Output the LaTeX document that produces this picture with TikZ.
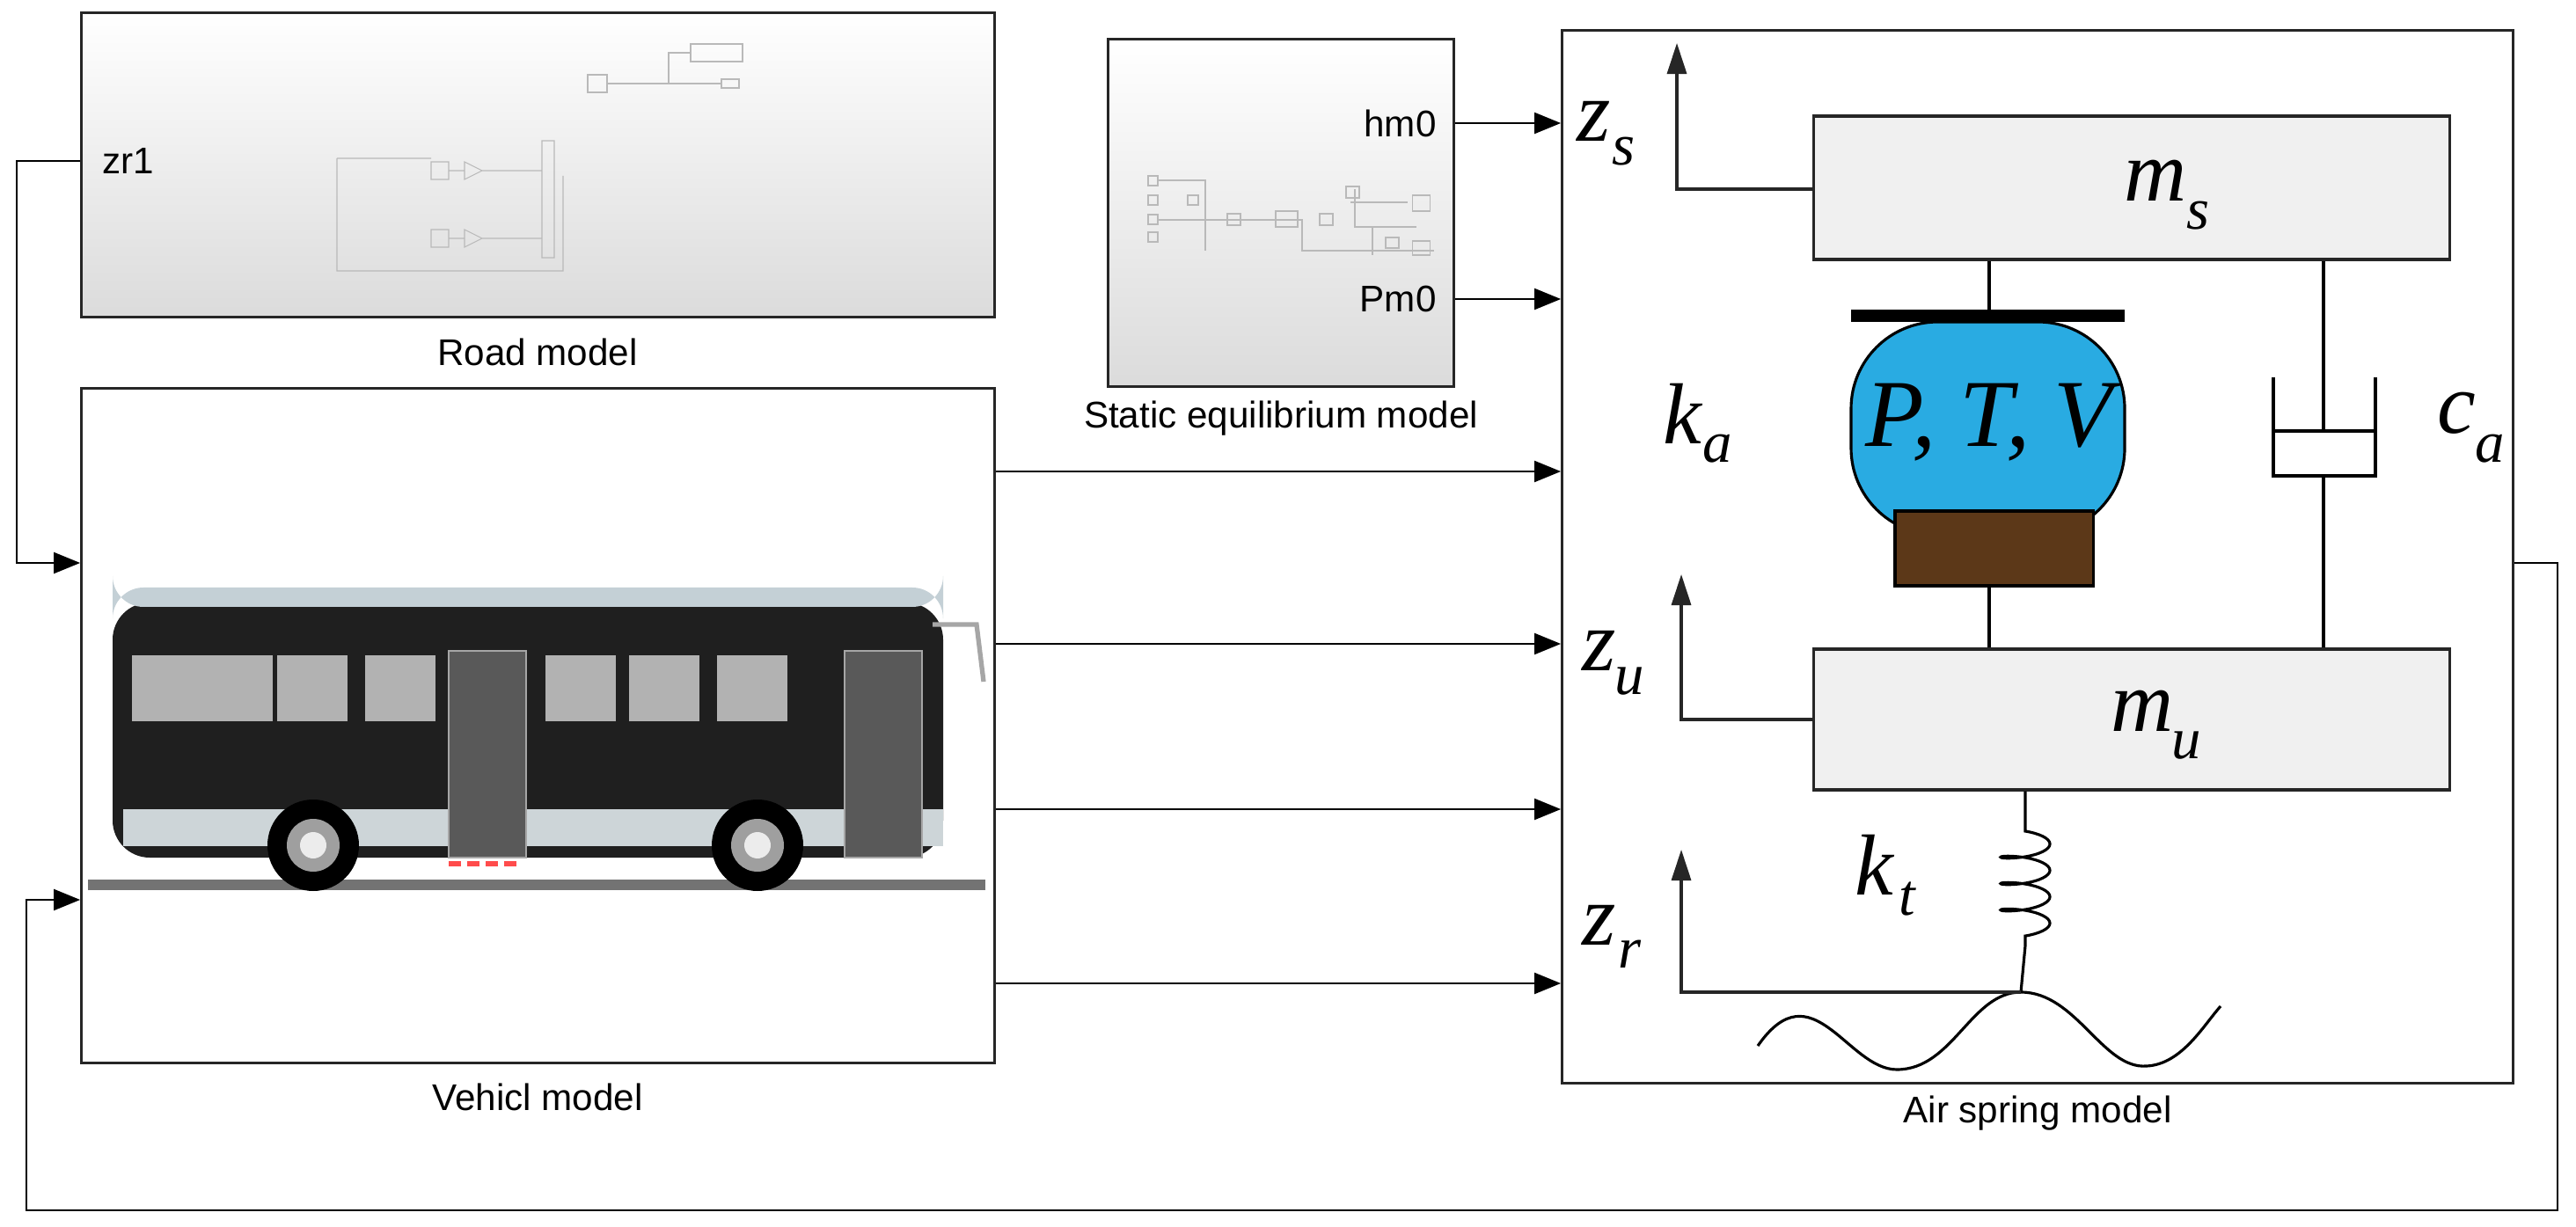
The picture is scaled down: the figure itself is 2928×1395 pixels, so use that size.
\documentclass[tikz,border=0pt]{standalone}
\usepackage{fontspec}
\setmainfont{Liberation Sans}
\newfontfamily\mathserif{Liberation Serif}
\usetikzlibrary{arrows.meta, decorations.pathmorphing}
\definecolor{airblue}{RGB}{41,171,226}
\definecolor{pistbrown}{RGB}{92,56,24}
\tikzset{
  block/.style={draw=black!85, line width=0.9pt, inner sep=0pt},
  simblock/.style={block, top color=white, bottom color=gray!28},
  sig/.style={-{Triangle[length=0.3cm, width=0.24cm]}, line width=0.6pt},
  caption/.style={font=\fontsize{12}{14}\selectfont},
  port/.style={font=\fontsize{12}{14}\selectfont},
  sym/.style={font=\mathserif\itshape\fontsize{28}{30}\selectfont},
  subs/.style={font=\mathserif\itshape\fontsize{19}{21}\selectfont},
  mass/.style={draw=black!85, line width=0.9pt, fill=gray!12},
  faint/.style={draw=gray!55, line width=0.3pt},
  up/.style={-{Triangle[length=0.35cm, width=0.22cm]}, line width=0.9pt, draw=black!85}
}
\begin{document}
\begin{tikzpicture}[x=0.01cm, y=-0.01cm]
	\useasboundingbox (0,0) rectangle (2928,1395);
	% blocks
	\node[simblock, minimum width=10.37cm, minimum height=3.45cm] (road) at (611.5,187.5) {};
	\node[block, fill=white, minimum width=10.37cm, minimum height=7.66cm] (veh) at (611.5,825) {};
	\node[simblock, minimum width=3.92cm, minimum height=3.94cm] (stat) at (1456,242) {};
	\node[block, fill=white, minimum width=10.8cm, minimum height=11.96cm] (air) at (2316,633) {};
	\node[caption] at (611,400) {Road model};
	\node[caption] at (611,1247) {Vehicl model};
	\node[caption] at (1456,476) {Static equilibrium model};
	\node[caption] at (2316,1266) {Air spring model};
	% ports
	\node[port, anchor=west] (zr1) at (104,183) {zr1};
	\node[port, anchor=east] (hm0) at (1645,140) {hm0};
	\node[port, anchor=east] (pm0) at (1645,340) {Pm0};
	% faint sub-blocks
	\draw[faint] (668,85) rectangle (690,105) (690,95) -- (760,95) -- (760,60) -- (785,60)
		(785,50) rectangle (844,70) (760,95) -- (820,95) (820,90) rectangle (840,100);
	\draw[faint] (383,180) -- (383,308) -- (640,308) -- (640,200) (383,180) -- (490,180)
		(490,184) rectangle (510,204) (510,194) -- (528,194) (528,184) -- (528,204) -- (548,194) -- cycle
		(548,194) -- (616,194) (490,261) rectangle (510,281) (510,271) -- (528,271)
		(528,261) -- (528,281) -- (548,271) -- cycle (548,271) -- (616,271)
		(616,160) rectangle (630,293);
	\foreach \yy in {200,222,244,264}
		\draw[faint] (1305,\yy) rectangle (1316,\yy+11);
	\draw[faint] (1316,205) -- (1370,205) -- (1370,285) (1316,250) -- (1480,250) -- (1480,285) -- (1630,285)
		(1350,222) rectangle (1362,233) (1395,243) rectangle (1410,256) (1450,240) rectangle (1475,258)
		(1500,243) rectangle (1515,256) (1540,215) -- (1540,258) -- (1610,258) (1535,230) -- (1600,230)
		(1605,222) rectangle (1625,240) (1530,212) rectangle (1545,225) (1575,270) rectangle (1590,282)
		(1605,274) rectangle (1625,290) (1560,258) -- (1560,290);
	% bus
	\fill[black!88, rounded corners=12] (128,685) rectangle (1072,975);
	\fill[cyan!20!gray!45, rounded corners=10] (128,668) rectangle (1072,690);
	\fill[cyan!15!gray!40] (140,920) rectangle (1072,962);
	\fill[black!55] (100,1000) rectangle (1120,1012);
	\foreach \xx in {150,230,315,415,620,715,815}
		\fill[gray!60] (\xx,745) rectangle (\xx+80,820);
	\foreach \xx in {510,960}
		\fill[black!65, draw=gray!70] (\xx,740) rectangle (\xx+88,975);
	\draw[gray!70, line width=1.5pt] (1060,710) -- (1110,710) -- (1118,775);
	\foreach \xx in {356,861}{
		\fill[black] (\xx,961) circle (52);
		\fill[gray!75] (\xx,961) circle (30);
		\fill[white!85!gray] (\xx,961) circle (15);}
	\draw[red!70, line width=1.5pt, dash pattern=on 4pt off 2pt] (510,982) -- (590,982);
	% connectors
	\coordinate (l1) at (0,536);
	\coordinate (l2) at (0,732);
	\coordinate (l3) at (0,920);
	\coordinate (l4) at (0,1118);
	\coordinate (lin) at (0,640);
	\coordinate (lfb) at (0,1023);
	\foreach \l in {l1,l2,l3,l4}
		\draw[sig] (veh.east |- \l) -- (air.west |- \l);
	\draw[sig] (stat.east |- hm0) -- (air.west |- hm0);
	\draw[sig] (stat.east |- pm0) -- (air.west |- pm0);
	\draw[sig] (road.west |- zr1) -| (19,640) -- (veh.west |- lin);
	\draw[sig] (air.east |- lin) -- (2907,640) -- (2907,1376) -- (30,1376) -- (30,1023) -- (veh.west |- lfb);
	% air spring model
	\node[mass, minimum width=7.22cm, minimum height=1.63cm] (ms) at (2423,213.5) {};
	\node[mass, minimum width=7.22cm, minimum height=1.6cm] (mu) at (2423,818) {};
	\node[sym] at (2450,205) {m};
	\node[subs] at (2498,245) {s};
	\node[sym] at (2435,808) {m};
	\node[subs] at (2485,848) {u};
	\fill[black] (2104,352) rectangle (2415,366);
	\draw[line width=0.9pt, fill=airblue, rounded corners=28] (2104,366) rectangle (2415,608);
	\node[draw=black, line width=0.9pt, fill=pistbrown, minimum width=2.25cm, minimum height=0.85cm] (pist) at (2266.5,623.5) {};
	\node[font=\mathserif\itshape\fontsize{31}{33}\selectfont] at (2261,480) {P, T, V};
	\draw[line width=0.9pt] (ms.south -| 2261,0) -- (2261,352);
	\draw[line width=0.9pt] (pist.south -| 2261,0) -- (mu.north -| 2261,0);
	% damper
	\draw[line width=0.9pt] (ms.south -| 2641,0) -- (2641,490);
	\draw[line width=0.9pt] (2584,429) -- (2584,541) -- (2700,541) -- (2700,429);
	\draw[line width=0.9pt] (2584,490) -- (2700,490);
	\draw[line width=0.9pt] (2641,541) -- (mu.north -| 2641,0);
	% tyre spring
	\coordinate (road pt) at (2297,1128);
	\draw[line width=0.9pt] (mu.south -| 2302,0) -- (2302,945)
		decorate[decoration={coil, aspect=0.25, segment length=0.3cm, amplitude=0.28cm}] {-- (2302,1075)}
		-- (2297,1128);
	\draw[line width=0.9pt] (1998,1189) .. controls (2060,1100) and (2100,1216) .. (2156,1216)
		.. controls (2220,1216) and (2240,1128) .. (road pt)
		.. controls (2360,1128) and (2390,1216) .. (2440,1212)
		.. controls (2480,1210) and (2505,1165) .. (2524,1144);
	% displacement arrows
	\draw[up] (ms.west |- 0,215) -- (1906,215) -- (1906,49);
	\draw[up] (mu.west |- 0,818) -- (1911,818) -- (1911,653);
	\draw[up] (road pt) -- (1911,1128) -- (1911,966);
	\node[sym] at (1812,138) {z};
	\node[subs] at (1845,172) {s};
	\node[sym] at (1818,740) {z};
	\node[subs] at (1852,775) {u};
	\node[sym] at (1818,1052) {z};
	\node[subs] at (1852,1085) {r};
	\node[sym] at (1912,470) {k};
	\node[subs] at (1952,510) {a};
	\node[sym] at (2792,470) {c};
	\node[subs] at (2830,510) {a};
	\node[sym] at (2130,983) {k};
	\node[subs] at (2168,1022) {t};
\end{tikzpicture}
\end{document}
